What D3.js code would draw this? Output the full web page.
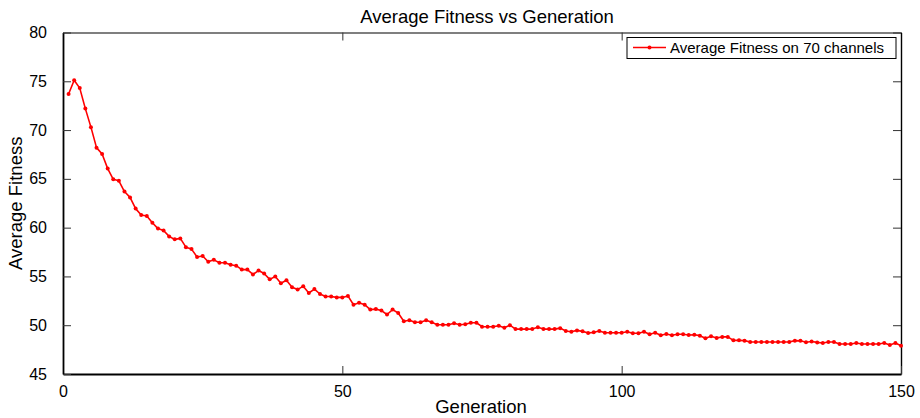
<!DOCTYPE html>
<html>
<head>
<meta charset="utf-8">
<script src="https://cdn.jsdelivr.net/npm/d3@7"></script>
<style>
  html, body { margin: 0; padding: 0; background: #fff; }
  svg { display: block; font-family: "Liberation Sans", Arial, sans-serif; }
</style>
</head>
<body>
<svg id="chart" width="920" height="418"></svg>
<script>
// Average fitness per generation (generations 1..150)
const fitness = [
  73.7, 75.1, 74.3, 72.2, 70.3, 68.2, 67.55, 66.05, 64.95, 64.8,
  63.7, 63.1, 61.95, 61.3, 61.2, 60.5, 59.9, 59.7, 59.1, 58.8,
  58.9, 58.0, 57.8, 57.0, 57.1, 56.5, 56.7, 56.4, 56.4, 56.2,
  56.1, 55.7, 55.7, 55.2, 55.6, 55.3, 54.7, 55.0, 54.3, 54.6,
  53.9, 53.65, 54.0, 53.3, 53.7, 53.2, 52.95, 52.95, 52.85, 52.85,
  53.0, 52.1, 52.3, 52.1, 51.6, 51.65, 51.5, 51.1, 51.6, 51.25,
  50.4, 50.5, 50.3, 50.3, 50.5, 50.3, 50.05, 50.05, 50.05, 50.2,
  50.05, 50.1, 50.25, 50.25, 49.85, 49.85, 49.85, 49.95, 49.75, 50.0,
  49.6, 49.6, 49.6, 49.6, 49.8, 49.6, 49.6, 49.6, 49.7, 49.4,
  49.33, 49.47, 49.37, 49.2, 49.27, 49.4, 49.23, 49.23, 49.23, 49.23,
  49.33, 49.17, 49.17, 49.33, 49.07, 49.23, 48.97, 49.1, 48.97, 49.07,
  49.07, 49.0, 49.03, 48.93, 48.66, 48.86, 48.7, 48.8, 48.8, 48.45,
  48.45, 48.42, 48.28, 48.28, 48.28, 48.28, 48.28, 48.28, 48.28, 48.28,
  48.42, 48.4, 48.25, 48.33, 48.24, 48.17, 48.28, 48.28, 48.07, 48.07,
  48.07, 48.17, 48.07, 48.08, 48.08, 48.08, 48.17, 47.97, 48.17, 47.9
];
const generations = fitness.map((_, i) => i + 1);

const xTicks = [0, 50, 100, 150];
const yTicks = [45, 50, 55, 60, 65, 70, 75, 80];

const chartTitle = "Average Fitness vs Generation";
const xLabel = "Generation";
const yLabel = "Average Fitness";
const seriesName = "Average Fitness on 70 channels";

const plot = { left: 63, right: 901, top: 32.5, bottom: 374 };
const red = "#ff0000";

const svg = d3.select("#chart");

const x = d3.scaleLinear().domain([0, 150]).range([plot.left, plot.right]);
const y = d3.scaleLinear().domain([45, 80]).range([plot.bottom, plot.top]);

// Axes: ticks point inward and are mirrored on the opposite sides
const tickLen = 8;
const bottomAxis = d3.axisBottom(x).tickValues(xTicks).tickSizeInner(-tickLen).tickSizeOuter(0).tickPadding(tickLen + 4);
const topAxis = d3.axisTop(x).tickValues(xTicks).tickSizeInner(-tickLen).tickSizeOuter(0).tickFormat("");
const leftAxis = d3.axisLeft(y).tickValues(yTicks).tickSizeInner(-tickLen).tickSizeOuter(0).tickPadding(tickLen + 8);
const rightAxis = d3.axisRight(y).tickValues(yTicks).tickSizeInner(-tickLen).tickSizeOuter(0).tickFormat("");

function styleAxis(g, width) {
  g.select(".domain").attr("stroke", "#000").attr("stroke-width", width);
  g.selectAll(".tick line").attr("stroke", "#333").attr("stroke-width", 1);
  g.selectAll(".tick text").attr("fill", "#000").attr("font-size", 16)
    .attr("font-family", "Liberation Sans, Arial, sans-serif");
}

svg.append("g").attr("transform", `translate(0,${plot.top})`).call(topAxis).call(styleAxis, 1.2);
svg.append("g").attr("transform", `translate(${plot.right},0)`).call(rightAxis).call(styleAxis, 1.4);
svg.append("g").attr("transform", `translate(0,${plot.bottom})`).call(bottomAxis).call(styleAxis, 1.8);
svg.append("g").attr("transform", `translate(${plot.left},0)`).call(leftAxis).call(styleAxis, 1.8);

// Series line with small dot markers
const line = d3.line().x((d, i) => x(generations[i])).y(d => y(d));
svg.append("path")
  .datum(fitness)
  .attr("fill", "none")
  .attr("stroke", red)
  .attr("stroke-width", 1.6)
  .attr("stroke-linejoin", "round")
  .attr("d", line);

svg.append("g").selectAll("circle")
  .data(fitness)
  .join("circle")
  .attr("cx", (d, i) => x(generations[i]))
  .attr("cy", d => y(d))
  .attr("r", 2)
  .attr("fill", red);

// Title and axis labels
svg.append("text")
  .attr("x", 487).attr("y", 23)
  .attr("text-anchor", "middle")
  .attr("font-size", 18.5)
  .attr("fill", "#000")
  .text(chartTitle);

svg.append("text")
  .attr("x", 481).attr("y", 413)
  .attr("text-anchor", "middle")
  .attr("font-size", 18.5)
  .attr("fill", "#000")
  .text(xLabel);

svg.append("text")
  .attr("transform", `translate(22,${(plot.top + plot.bottom) / 2}) rotate(-90)`)
  .attr("text-anchor", "middle")
  .attr("font-size", 18.5)
  .attr("fill", "#000")
  .text(yLabel);

// Legend
const legend = svg.append("g");
legend.append("rect")
  .attr("x", 627).attr("y", 37.5).attr("width", 269).attr("height", 21)
  .attr("fill", "#fff").attr("stroke", "#000").attr("stroke-width", 1);
legend.append("line")
  .attr("x1", 633).attr("x2", 666).attr("y1", 47.5).attr("y2", 47.5)
  .attr("stroke", red).attr("stroke-width", 1.6);
legend.append("circle")
  .attr("cx", 649.5).attr("cy", 47.5).attr("r", 2).attr("fill", red);
legend.append("text")
  .attr("x", 670).attr("y", 53)
  .attr("font-size", 15)
  .attr("fill", "#000")
  .text(seriesName);
</script>
</body>
</html>
